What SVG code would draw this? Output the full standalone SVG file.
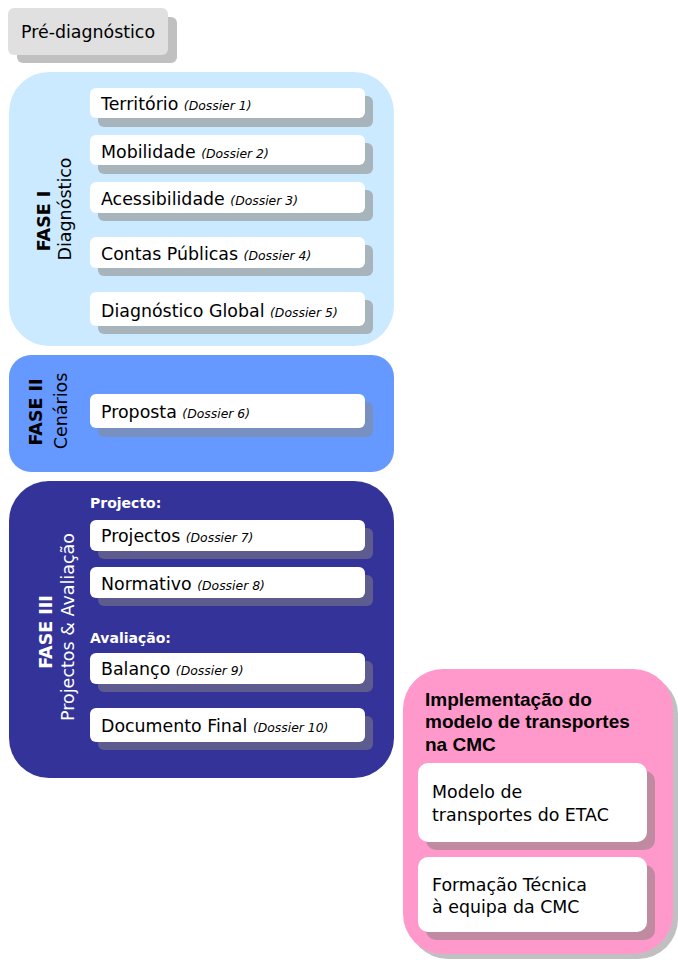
<svg xmlns="http://www.w3.org/2000/svg" width="678" height="963" viewBox="0 0 678 963">
<style>
.t{font-family:"DejaVu Sans","Open Sans",sans-serif;font-size:17.4px;fill:#000}
.d{font-family:"DejaVu Sans","Open Sans",sans-serif;font-size:12.4px;font-style:italic;fill:#000}
.box{fill:#fff}
.ph{font-family:"DejaVu Sans","Open Sans",sans-serif;font-size:17.5px}
.b{font-weight:bold}
.sub{font-family:"DejaVu Sans","Open Sans",sans-serif;font-size:14px;font-weight:bold;fill:#fff}
.pt{font-family:"Liberation Sans",Arial,sans-serif;font-size:19px;font-weight:bold;fill:#000}
.s1{fill:#a7b4bc}.s2{fill:#7890c0}.s3{fill:#5e5c8e}.s4{fill:#c08aa0}
</style>
<rect width="678" height="963" fill="#fff"/>
<g id="prediagnostico">
<rect x="17" y="17" width="160" height="46" rx="6" fill="#c0c0c0"/>
<rect x="8" y="8" width="160" height="47" rx="6" fill="#e0e0e0"/>
<text class="t" x="21" y="38">Pré-diagnóstico</text>
</g>
<g id="fase1">
<rect x="9" y="72" width="385" height="274" rx="40" fill="#cceaff"/>
<text class="ph b" transform="translate(50,221) rotate(-90)" text-anchor="middle">FASE I</text>
<text class="ph" transform="translate(71,209) rotate(-90)" text-anchor="middle">Diagnóstico</text>
</g>
<g id="territorio"><rect class="s1" x="98" y="96" width="275" height="31" rx="6"/><rect class="box" x="90" y="88" width="275" height="30" rx="6"/><text class="t" x="101" y="110">Território <tspan class="d">(Dossier 1)</tspan></text></g>
<g id="mobilidade"><rect class="s1" x="98" y="143" width="275" height="31" rx="6"/><rect class="box" x="90" y="135" width="275" height="30" rx="6"/><text class="t" x="101" y="158">Mobilidade <tspan class="d">(Dossier 2)</tspan></text></g>
<g id="acessibilidade"><rect class="s1" x="98" y="190" width="275" height="31" rx="6"/><rect class="box" x="90" y="182" width="275" height="31" rx="6"/><text class="t" x="101" y="205">Acessibilidade <tspan class="d">(Dossier 3)</tspan></text></g>
<g id="contas"><rect class="s1" x="98" y="245" width="275" height="31" rx="6"/><rect class="box" x="90" y="237" width="275" height="31" rx="6"/><text class="t" x="101" y="260">Contas Públicas <tspan class="d">(Dossier 4)</tspan></text></g>
<g id="diagglobal"><rect class="s1" x="98" y="300" width="275" height="34" rx="6"/><rect class="box" x="90" y="292" width="275" height="34" rx="6"/><text class="t" x="101" y="317">Diagnóstico Global <tspan class="d">(Dossier 5)</tspan></text></g>
<g id="fase2">
<rect x="9" y="355" width="385" height="117" rx="22" fill="#6699ff"/>
<text class="ph b" transform="translate(42,412) rotate(-90)" text-anchor="middle">FASE II</text>
<text class="ph" transform="translate(67,411) rotate(-90)" text-anchor="middle">Cenários</text>
</g>
<g id="proposta"><rect class="s2" x="98" y="402" width="275" height="35" rx="6"/><rect class="box" x="90" y="394" width="275" height="34" rx="6"/><text class="t" x="101" y="418">Proposta <tspan class="d">(Dossier 6)</tspan></text></g>
<g id="fase3">
<rect x="9" y="481" width="385" height="297" rx="40" fill="#333399"/>
<text class="ph b" transform="translate(52,632) rotate(-90)" text-anchor="middle" fill="#fff">FASE III</text>
<text class="ph" transform="translate(74,627) rotate(-90)" text-anchor="middle" fill="#fff">Projectos &amp; Avaliação</text>
<text class="sub" x="90" y="508">Projecto:</text>
<text class="sub" x="90" y="643">Avaliação:</text>
</g>
<g id="projectos"><rect class="s3" x="98" y="528" width="275" height="31" rx="6"/><rect class="box" x="90" y="520" width="275" height="31" rx="6"/><text class="t" x="101" y="542">Projectos <tspan class="d">(Dossier 7)</tspan></text></g>
<g id="normativo"><rect class="s3" x="98" y="575" width="275" height="31" rx="6"/><rect class="box" x="90" y="567" width="275" height="31" rx="6"/><text class="t" x="101" y="590">Normativo <tspan class="d">(Dossier 8)</tspan></text></g>
<g id="balanco"><rect class="s3" x="98" y="661" width="275" height="31" rx="6"/><rect class="box" x="90" y="653" width="275" height="31" rx="6"/><text class="t" x="101" y="675">Balanço <tspan class="d">(Dossier 9)</tspan></text></g>
<g id="docfinal"><rect class="s3" x="98" y="716" width="275" height="34" rx="6"/><rect class="box" x="90" y="708" width="275" height="34" rx="6"/><text class="t" x="101" y="732">Documento Final <tspan class="d">(Dossier 10)</tspan></text></g>
<g id="implementacao">
<rect x="408" y="674" width="270" height="285" rx="40" fill="#c0c0c0"/>
<rect x="403" y="669" width="270" height="285" rx="40" fill="#ff99cc"/>
<text class="pt" x="425" y="706">Implementação do</text>
<text class="pt" x="425" y="728">modelo de transportes</text>
<text class="pt" x="425" y="751">na CMC</text>
</g>
<g id="modelo"><rect class="s4" x="426" y="771" width="229" height="79" rx="10"/><rect class="box" x="418" y="763" width="229" height="79" rx="10"/><text class="t" x="432" y="798">Modelo de</text><text class="t" x="432" y="821">transportes do ETAC</text></g>
<g id="formacao"><rect class="s4" x="426" y="865" width="229" height="75" rx="10"/><rect class="box" x="418" y="857" width="229" height="75" rx="10"/><text class="t" x="432" y="891">Formação Técnica</text><text class="t" x="432" y="913">à equipa da CMC</text></g>
<g id="connectors"/>
</svg>
